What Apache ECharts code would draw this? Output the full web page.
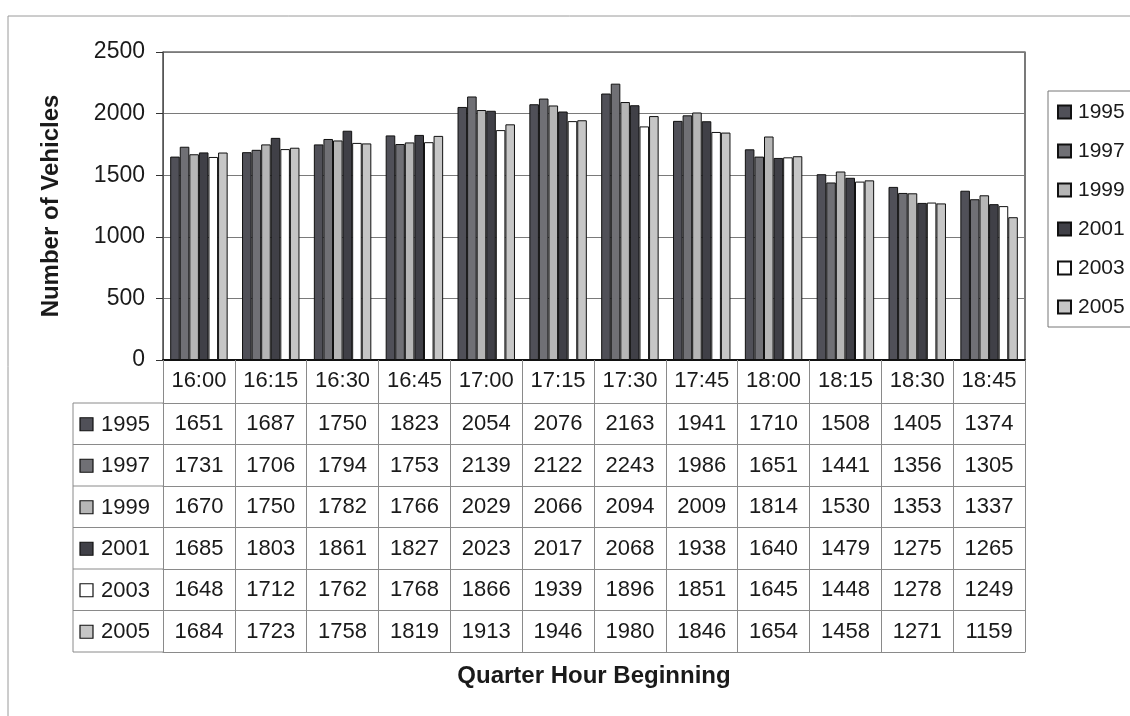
<!DOCTYPE html>
<html>
<head>
<meta charset="utf-8">
<script src="https://cdn.jsdelivr.net/npm/echarts@6/dist/echarts.min.js"></script>
<style>
  html, body { margin: 0; padding: 0; background: #ffffff; }
  #chart { width: 1130px; height: 716px; }
</style>
</head>
<body>
<div id="chart"></div>
<script>
// Quarter-hour vehicle counts, 16:00-18:45, by survey year
const quarters = ['16:00','16:15','16:30','16:45','17:00','17:15','17:30','17:45','18:00','18:15','18:30','18:45'];
const years = ['1995','1997','1999','2001','2003','2005'];
const v1995 = [1651,1687,1750,1823,2054,2076,2163,1941,1710,1508,1405,1374];
const v1997 = [1731,1706,1794,1753,2139,2122,2243,1986,1651,1441,1356,1305];
const v1999 = [1670,1750,1782,1766,2029,2066,2094,2009,1814,1530,1353,1337];
const v2001 = [1685,1803,1861,1827,2023,2017,2068,1938,1640,1479,1275,1265];
const v2003 = [1648,1712,1762,1768,1866,1939,1896,1851,1645,1448,1278,1249];
const v2005 = [1684,1723,1758,1819,1913,1946,1980,1846,1654,1458,1271,1159];
const yTicks = [0, 500, 1000, 1500, 2000, 2500];

const rows = [v1995, v1997, v1999, v2001, v2003, v2005];
const fills = ['#505058', '#707075', '#b6b6b6', '#404047', '#ffffff', '#c6c6c6'];

const FONT = '"Liberation Sans", Arial, sans-serif';
const INK = '#1a1a1a';

// layout of the data table under the plot
const gridLeft = 163, gridRight = 1025, axisY = 360;
const headerH = 43, rowH = 41.5;
const tableTop = axisY + headerH;
const tableBottom = tableTop + rowH * rows.length;
const labelColLeft = 73;

const chart = echarts.init(document.getElementById('chart'), null, { renderer: 'canvas' });

// one category axis per table row: its line is the row's top rule, its labels the counts
const rowAxes = rows.map((vals, i) => ({
  type: 'category',
  data: quarters,
  gridIndex: 0,
  position: 'bottom',
  offset: headerH + rowH * i,
  boundaryGap: true,
  axisLine: { show: true, lineStyle: { color: '#8a8a8a', width: 1 } },
  axisTick: { show: false },
  axisLabel: {
    interval: 0,
    margin: 10,
    fontSize: 22,
    fontFamily: FONT,
    color: INK,
    formatter: (v, idx) => String(vals[idx])
  },
  splitLine: { show: false }
}));

// closing rule under the last row
rowAxes.push({
  type: 'category',
  data: quarters,
  gridIndex: 0,
  position: 'bottom',
  offset: headerH + rowH * rows.length,
  axisLine: { show: true, lineStyle: { color: '#8a8a8a', width: 1 } },
  axisTick: { show: false },
  axisLabel: { show: false }
});

// page frame, legend frame and the left column of the table
const graphics = [
  {
    type: 'rect',
    silent: true,
    z: -1,
    shape: { x: 8, y: 16, width: 1200, height: 800 },
    style: { fill: 'none', stroke: '#9a9a9a', lineWidth: 1 }
  },
  {
    type: 'rect',
    silent: true,
    z: -1,
    shape: { x: 1048, y: 91, width: 200, height: 236 },
    style: { fill: '#fff', stroke: '#777', lineWidth: 1 }
  },
  {
    type: 'line',
    silent: true,
    shape: { x1: labelColLeft, y1: tableTop, x2: labelColLeft, y2: tableBottom },
    style: { stroke: '#8a8a8a', lineWidth: 1 }
  }
];
for (let i = 0; i <= rows.length; i++) {
  const y = tableTop + rowH * i;
  graphics.push({
    type: 'line',
    silent: true,
    shape: { x1: labelColLeft, y1: y, x2: gridLeft, y2: y },
    style: { stroke: '#8a8a8a', lineWidth: 1 }
  });
}
years.forEach((yr, i) => {
  const cy = tableTop + rowH * i + rowH / 2;
  graphics.push({
    type: 'rect',
    silent: true,
    shape: { x: 80, y: cy - 6, width: 13, height: 13 },
    style: { fill: fills[i], stroke: '#111', lineWidth: 1.2 }
  });
  graphics.push({
    type: 'text',
    silent: true,
    x: 101,
    y: cy + 1,
    style: {
      text: yr,
      fontSize: 22,
      fontFamily: FONT,
      fill: INK,
      verticalAlign: 'middle',
      align: 'left'
    }
  });
});

const option = {
  backgroundColor: '#ffffff',
  animation: false,
  textStyle: { fontFamily: FONT },
  grid: {
    left: gridLeft,
    right: 1130 - gridRight,
    top: 52,
    bottom: 716 - axisY,
    show: true,
    borderColor: '#222',
    borderWidth: 1.2,
    containLabel: false
  },
  legend: {
    orient: 'vertical',
    left: 1048,
    top: 91,
    data: years,
    icon: 'rect',
    itemWidth: 13,
    itemHeight: 13,
    itemGap: 17,
    padding: [10, 0, 10, 9],
    textStyle: { fontSize: 21, fontFamily: FONT, color: INK, lineHeight: 22, padding: [0, 0, 0, 2] },
    selectedMode: false
  },
  xAxis: [
    {
      type: 'category',
      data: quarters,
      gridIndex: 0,
      position: 'bottom',
      boundaryGap: true,
      name: 'Quarter Hour Beginning',
      nameLocation: 'middle',
      nameGap: 304,
      nameTextStyle: { fontSize: 24, fontWeight: 'bold', fontFamily: FONT, color: INK },
      axisLine: { show: true, lineStyle: { color: '#111', width: 2 } },
      axisTick: {
        show: true,
        interval: 0,
        alignWithLabel: false,
        inside: false,
        length: headerH + rowH * rows.length,
        lineStyle: { color: '#8a8a8a', width: 1 }
      },
      axisLabel: { interval: 0, margin: 10, fontSize: 22, fontFamily: FONT, color: INK },
      splitLine: { show: false }
    },
    ...rowAxes
  ],
  yAxis: {
    type: 'value',
    min: yTicks[0],
    max: yTicks[yTicks.length - 1],
    interval: yTicks[1] - yTicks[0],
    name: 'Number of Vehicles',
    nameLocation: 'middle',
    nameGap: 100,
    nameTextStyle: { fontSize: 24, fontWeight: 'bold', fontFamily: FONT, color: INK },
    axisLine: { show: true, lineStyle: { color: '#555', width: 1 } },
    axisTick: { show: true, length: 7, lineStyle: { color: '#333' } },
    axisLabel: {
      margin: 18,
      fontSize: 23,
      fontFamily: FONT,
      color: INK,
      formatter: (v) => String(v)
    },
    splitLine: { show: true, lineStyle: { color: '#7a7a7a', width: 1 } }
  },
  series: years.map((yr, i) => ({
    name: yr,
    type: 'bar',
    xAxisIndex: 0,
    yAxisIndex: 0,
    data: rows[i],
    barGap: '0%',
    barCategoryGap: '20%',
    itemStyle: { color: fills[i], borderColor: '#111', borderWidth: 1 },
    emphasis: { disabled: true }
  })),
  graphic: graphics
};

chart.setOption(option);
</script>
</body>
</html>
